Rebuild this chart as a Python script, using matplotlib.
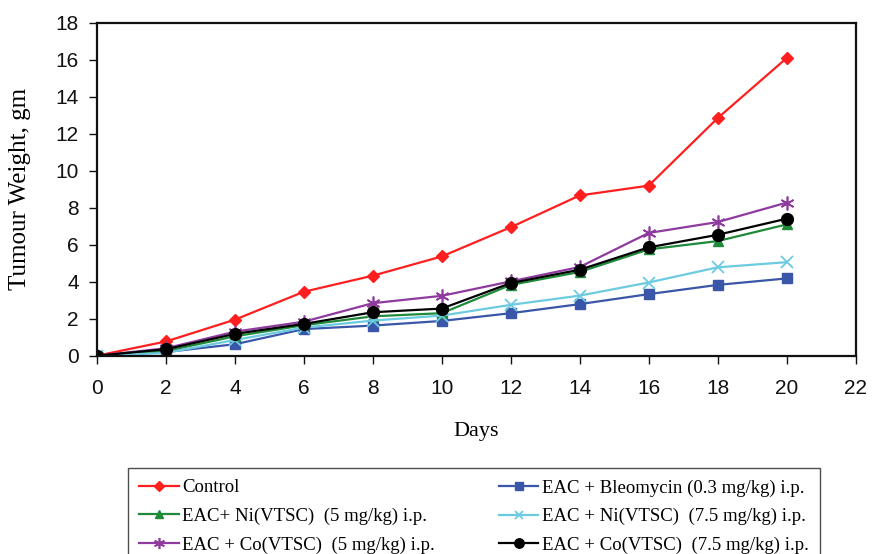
import matplotlib
matplotlib.use("Agg")
import matplotlib.pyplot as plt

days = [0, 2, 4, 6, 8, 10, 12, 14, 16, 18, 20]
control = [0, 0.77, 1.95, 3.46, 4.33, 5.37, 6.95, 8.67, 9.2, 12.85, 16.1]
bleomycin = [0, 0.2, 0.62, 1.44, 1.63, 1.88, 2.3, 2.79, 3.33, 3.83, 4.18]
ni_5 = [0, 0.25, 1.05, 1.65, 2.13, 2.3, 3.83, 4.53, 5.75, 6.2, 7.1]
ni_75 = [0, 0.15, 0.85, 1.52, 1.9, 2.17, 2.75, 3.25, 3.96, 4.78, 5.06]
co_5 = [0, 0.4, 1.3, 1.84, 2.84, 3.24, 4.02, 4.8, 6.64, 7.23, 8.28]
co_75 = [0, 0.35, 1.18, 1.72, 2.35, 2.55, 3.93, 4.65, 5.86, 6.54, 7.41]

labels = [
    "Control",
    "EAC + Bleomycin (0.3 mg/kg) i.p.",
    "EAC+ Ni(VTSC)  (5 mg/kg) i.p.",
    "EAC + Ni(VTSC)  (7.5 mg/kg) i.p.",
    "EAC + Co(VTSC)  (5 mg/kg) i.p.",
    "EAC + Co(VTSC)  (7.5 mg/kg) i.p.",
]
xticks = list(range(0, 23, 2))
yticks = list(range(0, 19, 2))

fig = plt.figure(figsize=(8.72, 5.54), dpi=100)
ax = fig.add_axes([97/872, 1 - 355.7/554, (855.5-97)/872, (355.7-23)/554])

serif = "Liberation Serif"
sans = "Liberation Sans"

styles = [
    (control, "#FF1F1F", dict(marker="D", markersize=6.5)),
    (bleomycin, "#3A56A8", dict(marker="s", markersize=7.5)),
    (ni_5, "#1E8A3A", dict(marker="^", markersize=7.5)),
    (ni_75, "#6CCBE0", dict(marker="x", markersize=8, markeredgewidth=1.3)),
    (co_5, "#8E3A9E", dict(marker=(6, 2, 0), markersize=10, markeredgewidth=1.2)),
    (co_75, "#000000", dict(marker="o", markersize=8.5)),
]
handles = []
for (vals, col, mk), lab in zip(styles, labels):
    h, = ax.plot(days, vals, color=col, lw=1.6, label=lab, **mk)
    handles.append(h)

ax.set_xlim(0, 22)
ax.set_ylim(0, 18)
ax.set_xticks(xticks)
ax.set_yticks(yticks)
for s in ax.spines.values():
    s.set_linewidth(1.6)
    s.set_color("#111111")
ax.tick_params(direction="out", length=6, width=1, colors="#111111")
for t in ax.get_xticklabels() + ax.get_yticklabels():
    t.set_fontfamily(sans)
    t.set_fontsize(15)
ax.tick_params(axis="x", pad=11)
ax.tick_params(axis="y", pad=7)

ax.set_xlabel("Days", fontfamily=serif, fontsize=16, labelpad=17)
ax.set_ylabel("Tumour Weight, gm", fontfamily=serif, fontsize=18, labelpad=18)

# legend: two columns, row-wise ordering
leg_handles = [handles[0], handles[2], handles[4], handles[1], handles[3], handles[5]]
leg_labels = [labels[0], labels[2], labels[4], labels[1], labels[3], labels[5]]
leg = fig.legend(leg_handles, leg_labels, ncol=2, loc="upper left",
                 bbox_to_anchor=(128/872, 1 - 468/554),
                 prop={"family": serif, "size": 13.5},
                 frameon=True, fancybox=False, edgecolor="#222222",
                 handlelength=2.1, handletextpad=0.2, columnspacing=3.4,
                 labelspacing=0.6, borderpad=0.6, borderaxespad=0,
                 markerscale=0.8)
leg.get_frame().set_linewidth(1.0)

fig.savefig("out.png", dpi=100)
